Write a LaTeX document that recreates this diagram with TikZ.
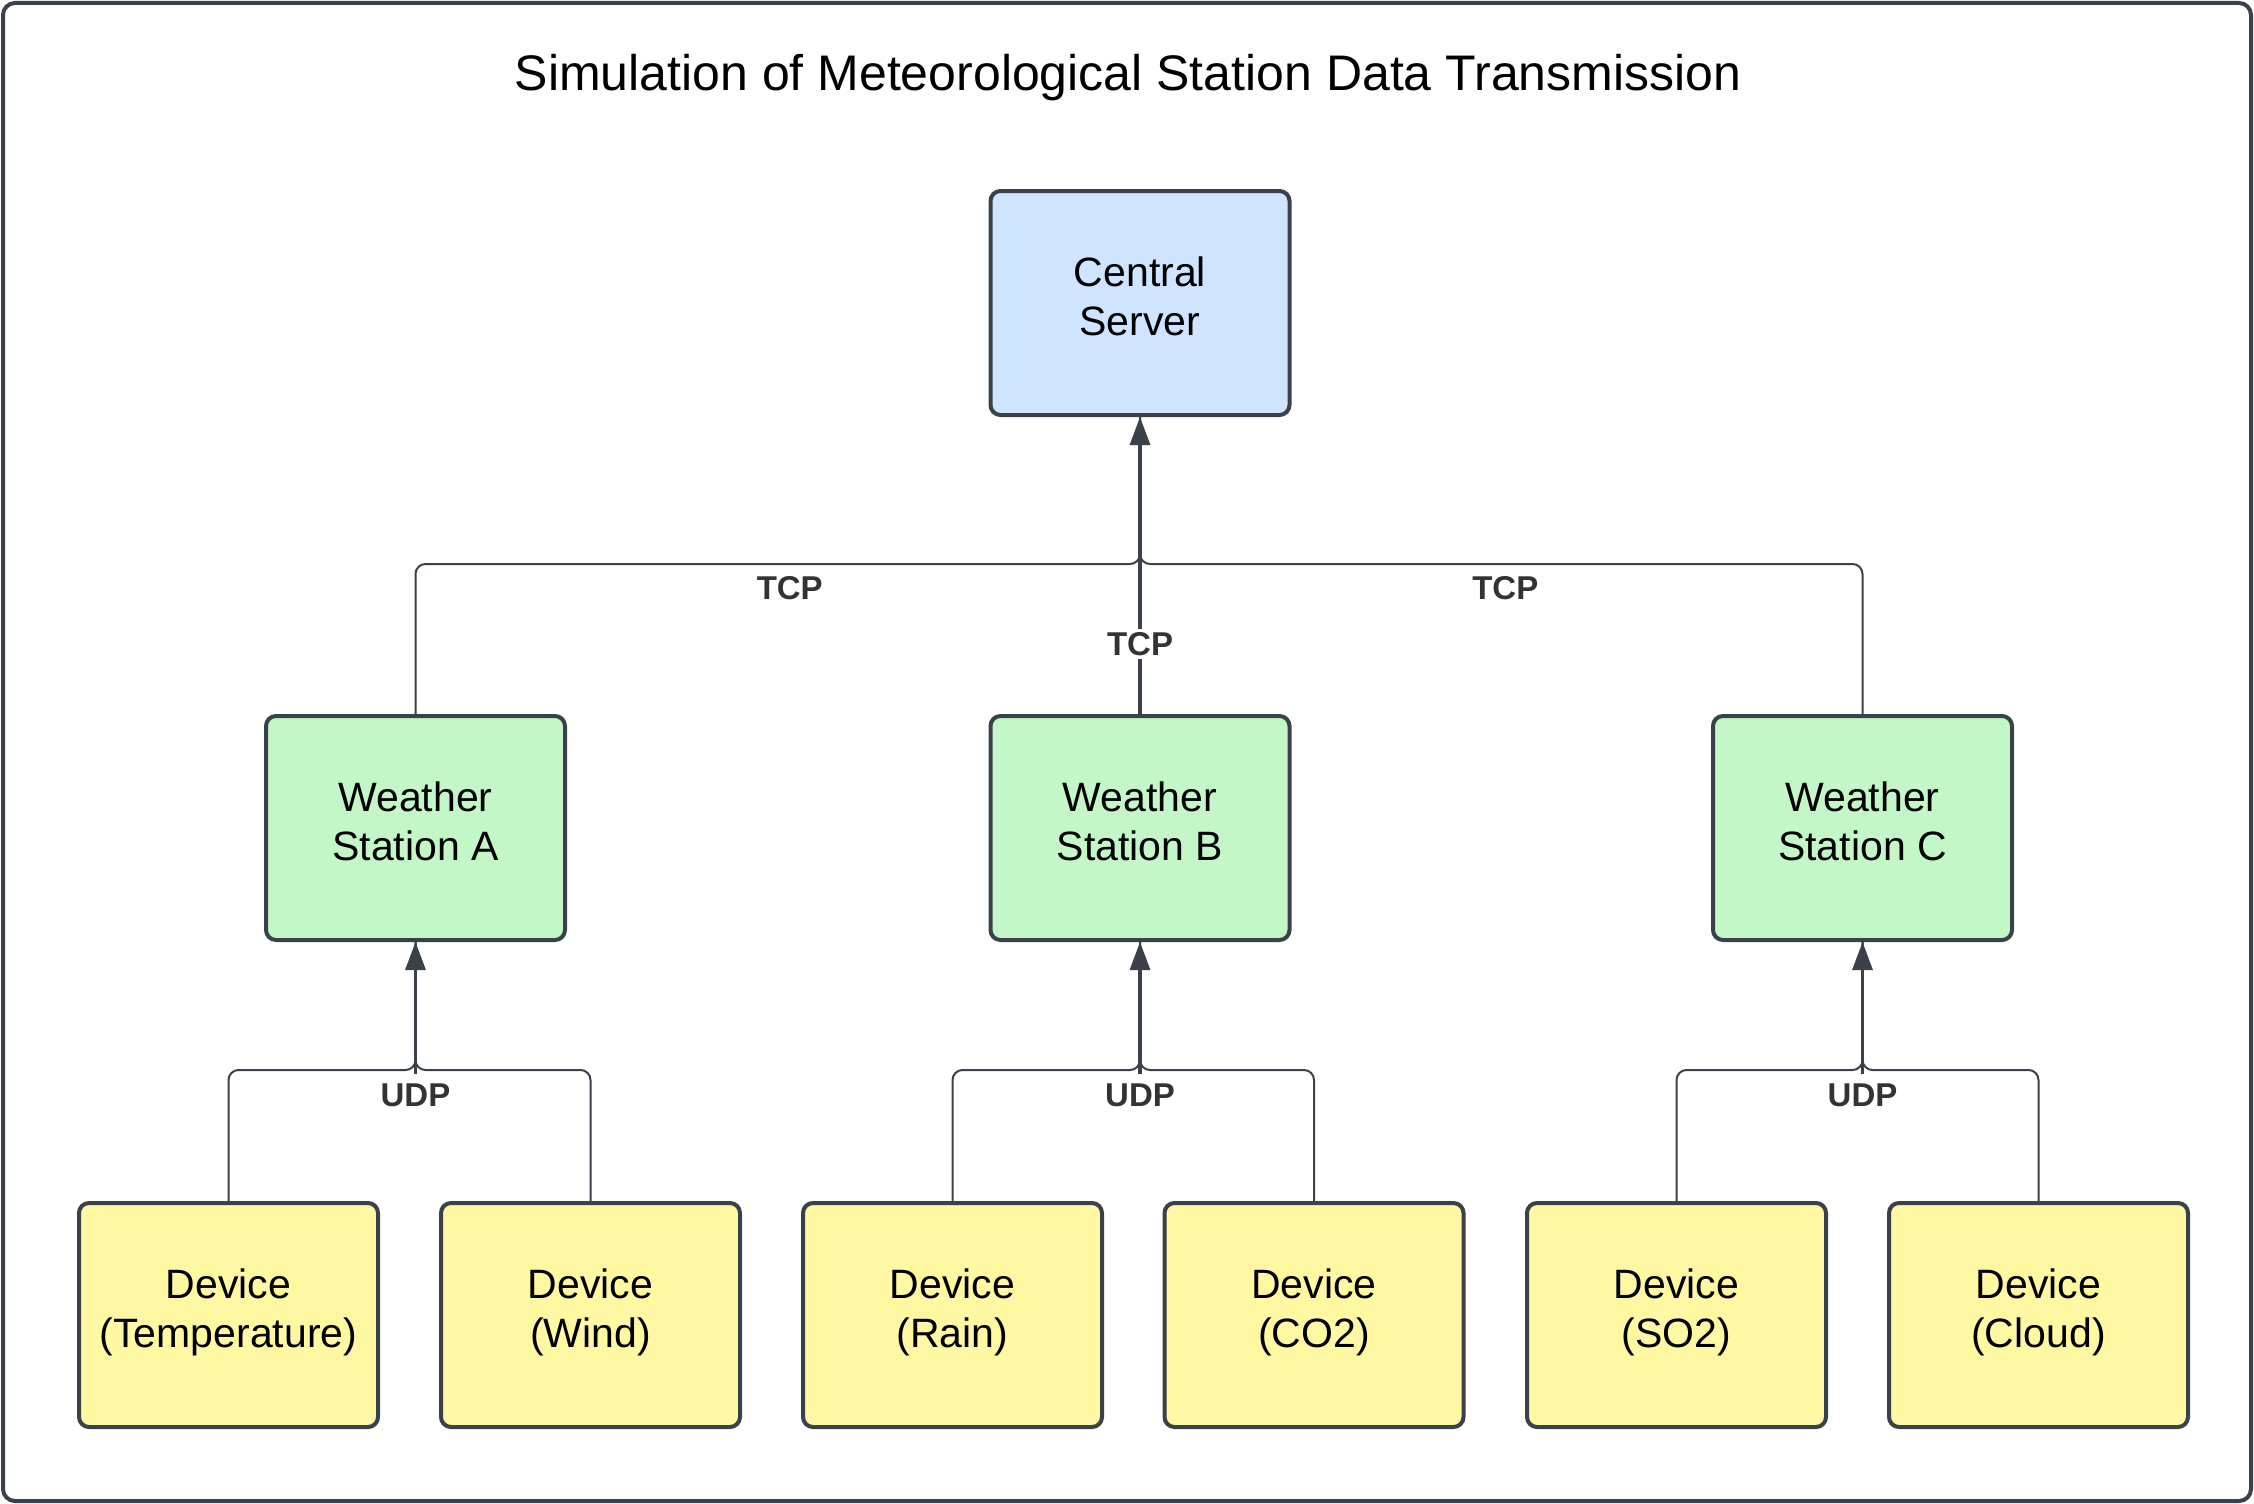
\documentclass[tikz,border=0pt]{standalone}
\usepackage{fontspec}
\setmainfont{Liberation Sans}
\usetikzlibrary{arrows.meta,calc}
\definecolor{edgecol}{HTML}{3A414A}
\definecolor{serverfill}{HTML}{CFE4FF}
\definecolor{stationfill}{HTML}{C3F7C8}
\definecolor{devicefill}{HTML}{FFF7A1}
\definecolor{labelcol}{HTML}{333333}
\begin{document}
\begin{tikzpicture}[x=1pt,y=-1pt,
  box/.style={draw=edgecol, line width=4pt, rounded corners=10pt, minimum width=299pt, minimum height=224pt, align=center, font=\fontsize{41}{49}\selectfont, inner sep=0pt, text depth=14pt},
  server/.style={box, fill=serverfill},
  station/.style={box, fill=stationfill},
  device/.style={box, fill=devicefill},
  branch/.style={draw=edgecol, line width=2pt, rounded corners=10pt},
  trunk/.style={draw=edgecol, line width=3.2pt, -{Triangle[length=28pt,width=20pt]}},
  lbl/.style={font=\fontsize{33}{40}\selectfont\bfseries, text=labelcol, inner sep=3pt}
]
\useasboundingbox (0,0) rectangle (2254,1504);
\draw[edgecol, line width=4pt, rounded corners=12pt] (3,3) rectangle (2251,1501);

\node[anchor=base] (title) at (1128,90) {\fontsize{50}{60}\selectfont Simulation of Meteorological Station Data Transmission};

\node[server] (cs) at (1140,303) {Central\\Server};
\node[station] (wA) at (415.5,828) {Weather\\Station A};
\node[station] (wB) at (1140,828) {Weather\\Station B};
\node[station] (wC) at (1862.5,828) {Weather\\Station C};

\node[device] (d1) at (228.5,1315) {Device\\(Temperature)};
\node[device] (d2) at (590.5,1315) {Device\\(Wind)};
\node[device] (d3) at (952.5,1315) {Device\\(Rain)};
\node[device] (d4) at (1314,1315) {Device\\(CO2)};
\node[device] (d5) at (1676.5,1315) {Device\\(SO2)};
\node[device] (d6) at (2038.5,1315) {Device\\(Cloud)};

% TCP connections
\draw[branch] (wA.north) -- ++(0,-150) -| (cs.south)
  node[lbl, pos=0.25, below=8pt, xshift=12pt] {TCP};
\draw[branch] (wC.north) -- ++(0,-150) -| (cs.south)
  node[lbl, pos=0.25, below=8pt, xshift=4pt] {TCP};
\draw[trunk] (wB.north) -- (cs.south)
  node[lbl, fill=white, pos=0.236] {TCP};

% UDP connections
\coordinate (jA) at ($(wA.south)+(0,132)$);
\coordinate (jB) at ($(wB.south)+(0,132)$);
\coordinate (jC) at ($(wC.south)+(0,132)$);
\draw[branch] (d1.north) -- ++(0,-131) -| (wA.south);
\draw[branch] (d2.north) -- ++(0,-131) -| (wA.south);
\draw[branch] (d3.north) -- ++(0,-131) -| (wB.south);
\draw[branch] (d4.north) -- ++(0,-131) -| (wB.south);
\draw[branch] (d5.north) -- ++(0,-131) -| (wC.south);
\draw[branch] (d6.north) -- ++(0,-131) -| (wC.south);
\draw[trunk] (jA) -- (wA.south) node[lbl, pos=0, below=5pt] {UDP};
\draw[trunk] (jB) -- (wB.south) node[lbl, pos=0, below=5pt] {UDP};
\draw[trunk] (jC) -- (wC.south) node[lbl, pos=0, below=5pt] {UDP};
\end{tikzpicture}
\end{document}
